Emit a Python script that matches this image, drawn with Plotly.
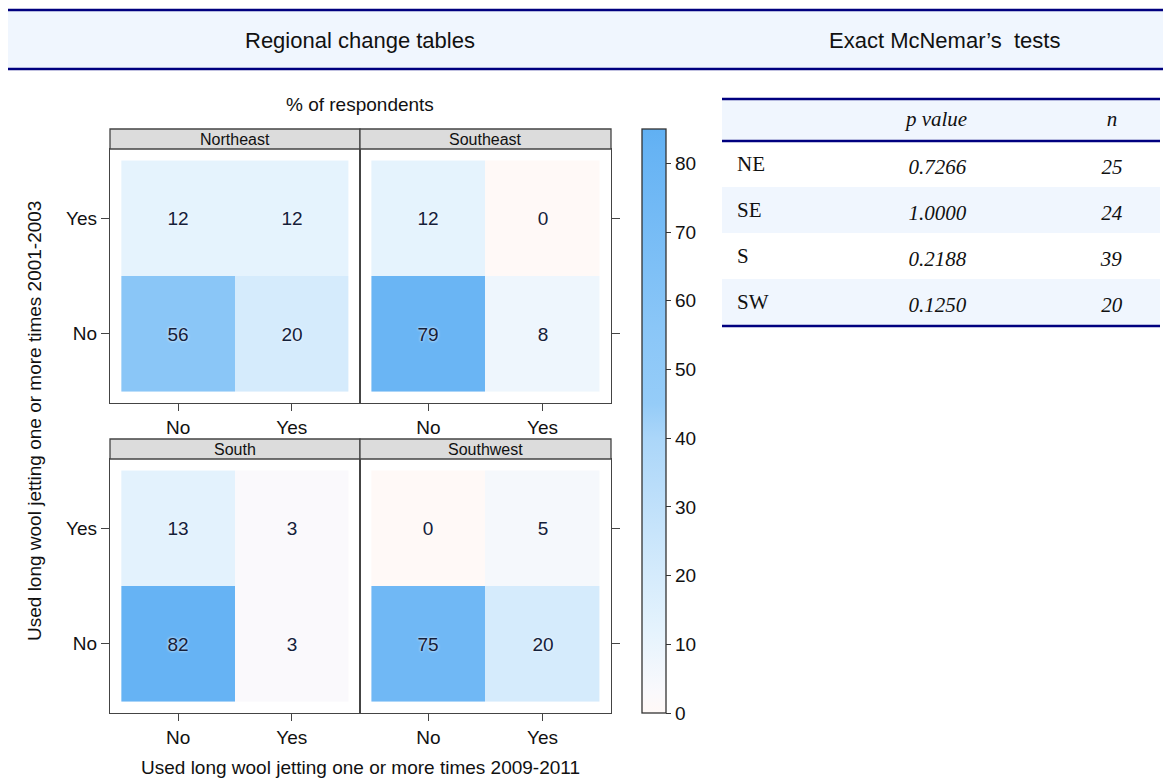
import plotly.graph_objects as go

# the page puts an 8 px body margin round the figure, so the figure is
# 8 px smaller and all positions below are screen pixels minus that offset
OFF = 8
W, H = 1171 - OFF, 782 - OFF

# data
regions = ["Northeast", "Southeast", "South", "Southwest"]
levels = ["No", "Yes"]
# rows = answer for 2001-2003 (No, Yes), columns = answer for 2009-2011 (No, Yes)
pct_northeast = [[56, 20], [12, 12]]
pct_southeast = [[79, 8], [12, 0]]
pct_south = [[82, 3], [13, 3]]
pct_southwest = [[75, 20], [0, 5]]
colorbar_ticks = [0, 10, 20, 30, 40, 50, 60, 70, 80]

test_regions = ["NE", "SE", "S", "SW"]
p_values = [0.7266, 1.0000, 0.2188, 0.1250]
n_resp = [25, 24, 39, 20]

NAVY = "#00007F"
BAND = "#F0F6FE"
AX = "#444444"
SANS = "Liberation Sans, Arial, sans-serif"
SERIF = "Liberation Serif, Times New Roman, serif"


def px(x):
    return max(0, (x - OFF) / W)


def py(y):
    return 1 - (y - OFF) / H


# panel boxes in screen pixels (x0, x1, ytop, ybottom)
boxes = [(110, 360, 149, 403), (360, 611, 149, 403),
         (110, 360, 459, 713), (360, 611, 459, 713)]
tables = [pct_northeast, pct_southeast, pct_south, pct_southwest]

colorscale = [
    [0.0, "#FFF9F7"], [0.035, "#FAF9FC"], [0.14, "#E5F3FD"],
    [0.235, "#D5EBFC"], [0.47, "#ABD6F9"], [0.53, "#95CCF8"],
    [0.66, "#8AC6F7"], [0.965, "#66B3F4"], [1.0, "#60B0F3"],
]


def note(text, x, y, size, **kw):
    d = dict(text=text, x=px(x), y=py(y), xref="paper", yref="paper",
             xanchor="center", yanchor="middle", showarrow=False,
             font=dict(family=SANS, size=size, color="#111"))
    d.update(kw)
    return d


def band(y0, y1, x0, x1):
    return dict(type="rect", xref="paper", yref="paper", x0=x0, x1=x1,
                y0=py(y1), y1=py(y0), fillcolor=BAND, line=dict(width=0),
                layer="below")


def rule(y, x0, x1):
    return dict(type="line", xref="paper", yref="paper", x0=x0, x1=x1,
                y0=py(y), y1=py(y), line=dict(color=NAVY, width=2.5))


fig = go.Figure()
layout_axes = {}
shapes = []
annotations = []

for k, (name, z, box) in enumerate(zip(regions, tables, boxes), start=1):
    s = "" if k == 1 else str(k)
    x0, x1, yt, yb = box
    fig.add_trace(go.Heatmap(
        z=z, x=[1, 2], y=[1, 2], coloraxis="coloraxis",
        texttemplate="%{z}",
        textfont=dict(family=SANS, size=19, color="#14203A",
                      shadow="0px 0px 3px #ffffff"),
        xaxis="x" + s, yaxis="y" + s, hoverinfo="skip",
    ))
    left = x0 == 110
    layout_axes["xaxis" + s] = dict(
        domain=[px(x0), px(x1)], range=[0.4, 2.6], anchor="y" + s,
        tickvals=[1, 2], ticktext=levels, ticks="outside", ticklen=7,
        tickcolor=AX, showline=True, linecolor=AX, linewidth=1.3, mirror=True,
        showgrid=False, zeroline=False, tickfont=dict(family=SANS, size=19, color="#111"),
        fixedrange=True,
    )
    layout_axes["yaxis" + s] = dict(
        domain=[py(yb), py(yt)], range=[0.4, 2.6], anchor="x" + s,
        side="left" if left else "right", showticklabels=left,
        tickvals=[1, 2], ticktext=levels, ticks="outside", ticklen=8,
        tickcolor=AX, showline=True, linecolor=AX, linewidth=1.3, mirror=True,
        showgrid=False, zeroline=False, tickfont=dict(family=SANS, size=19, color="#111"),
        fixedrange=True,
    )
    # strip
    shapes.append(dict(type="rect", xref="paper", yref="paper",
                       x0=px(x0), x1=px(x1), y0=py(yt), y1=py(yt - 20),
                       fillcolor="#DCDCDC", line=dict(color=AX, width=1.3)))
    annotations.append(note(name, (x0 + x1) / 2, yt - 10, 16))

# header band
shapes.append(band(9, 69, 0, 1))
shapes += [rule(10, 0, 1), rule(69, 0, 1)]

# table shading and rules (text comes from the Table trace)
tx0, tx1 = px(722), px(1160)
shapes += [band(99, 141, tx0, tx1), band(187, 233, tx0, tx1), band(279, 326, tx0, tx1)]
shapes += [rule(99, tx0, tx1), rule(141, tx0, tx1), rule(326, tx0, tx1)]

annotations += [
    note("Regional change tables", 360, 41, 22),
    note("Exact McNemar\u2019s  tests", 944, 41, 22),
    note("% of respondents", 360, 104, 19),
    note("Used long wool jetting one or more times 2009-2011", 360, 767, 19),
    note("Used long wool jetting one or more times 2001-2003", 34, 421, 19, textangle=-90),
]

clear = "rgba(0,0,0,0)"
fig.add_trace(go.Table(
    domain=dict(x=[px(729), px(1160)], y=[py(345), py(99)]),
    columnwidth=[81, 256, 94],
    header=dict(values=["", "<i>p value</i>", "<i>n</i>"],
                fill_color=clear, line=dict(width=0), height=48,
                align=["left", "center", "center"],
                font=dict(family=SERIF, size=21, color="#111")),
    cells=dict(values=[test_regions,
                       ["<i>%.4f</i>" % p for p in p_values],
                       ["<i>%d</i>" % n for n in n_resp]],
               fill_color=clear, line=dict(width=0), height=46,
               align=["left", "center", "center"],
               font=dict(family=SERIF, size=21, color="#111")),
))

fig.update_layout(
    width=W, height=H, margin=dict(l=0, r=0, t=0, b=0),
    paper_bgcolor="white", plot_bgcolor="white", showlegend=False,
    coloraxis=dict(
        cmin=0, cmax=85, colorscale=colorscale,
        colorbar=dict(x=px(642), xanchor="left", y=py(129), yanchor="top",
                      len=584 / H, lenmode="fraction", thickness=24,
                      thicknessmode="pixels", outlinecolor="#333", outlinewidth=1.3,
                      tickvals=colorbar_ticks, ticks="outside", ticklen=5,
                      tickcolor="#333", xpad=0, ypad=0,
                      tickfont=dict(family=SANS, size=19, color="#111")),
    ),
    shapes=shapes, annotations=annotations,
    **layout_axes,
)

fig.write_html("out.html")
